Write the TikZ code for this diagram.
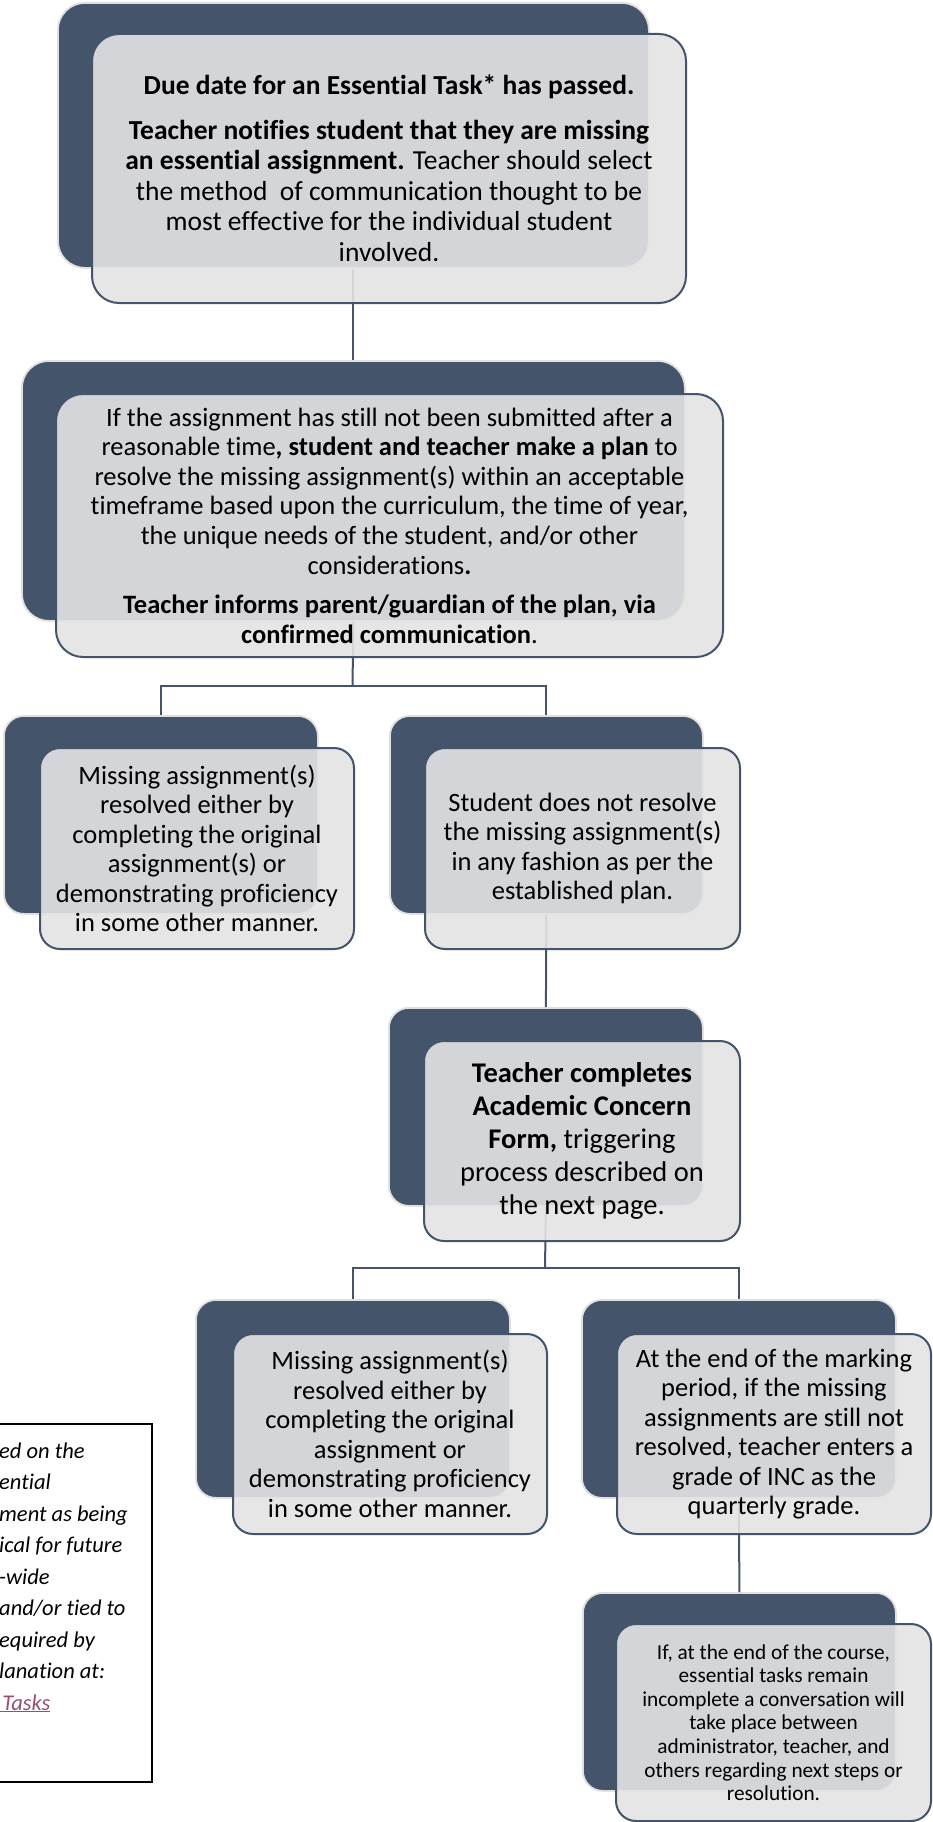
\documentclass[tikz,border=0pt]{standalone}
\usepackage{fontspec}
\setmainfont{Carlito}[Ligatures={NoCommon,NoContextual}]
\usetikzlibrary{calc}
\definecolor{slate}{HTML}{44546A}
\definecolor{lightfill}{RGB}{228,228,229}
\definecolor{linkcol}{HTML}{954F72}
\begin{document}
\begin{tikzpicture}[x=1pt,y=-1pt,
  darkbox/.style={rectangle, rounded corners=#1, fill=slate, draw=black!12, line width=1.8pt, anchor=north west, inner sep=0pt},
  darkbox/.default=20pt,
  lightbox/.style={rectangle, rounded corners=#1, fill=lightfill, fill opacity=0.9, text opacity=1, draw=slate, draw opacity=1, line width=2pt, anchor=north west, inner sep=0pt, align=center, text=black},
  lightbox/.default=20pt,
  conn/.style={draw=slate, line width=2pt},
  bigtext/.style={font=\fontsize{27.5}{30.5}\selectfont},
  midtext/.style={font=\fontsize{26.5}{29.6}\selectfont},
  smalltext/.style={font=\fontsize{26.5}{29.5}\selectfont},
  formtext/.style={font=\fontsize{28.5}{33}\selectfont},
  tinytext/.style={font=\fontsize{21.3}{23.6}\selectfont},
  fnline/.style={font=\itshape\fontsize{22.5}{26}\selectfont, anchor=base west, inner sep=0pt}
]
\useasboundingbox (0,0) rectangle (932,1822);
\fill[white] (0,0) rectangle (932,1822);

% ---------- footnote box (partly off the page)
\draw[black, line width=2pt] (-20,1424) rectangle (152,1782);
\foreach \t [count=\i] in {ed on the, ential, ment as being, ical for future, -wide, and/or tied to, equired by, lanation at:}
  \node[fnline] (fn\i) at (-1,{1458+31.5*(\i-1)}) {\t};
\node[fnline, text=linkcol] (fn9) at (-3,1710) {\underline{\ Tasks}};

% ---------- dark back boxes
\node[darkbox=27pt, minimum width=591, minimum height=265] (d1) at (57,2) {};
\node[darkbox=27pt, minimum width=663, minimum height=260] (d2) at (21,360) {};
\node[darkbox, minimum width=314, minimum height=198] (d3) at (3,715) {};
\node[darkbox, minimum width=313, minimum height=198] (d4) at (389,715) {};
\node[darkbox, minimum width=314, minimum height=198] (d5) at (388,1007) {};
\node[darkbox, minimum width=314, minimum height=198] (d6) at (195,1299) {};
\node[darkbox, minimum width=314, minimum height=198] (d7) at (581,1299) {};
\node[darkbox, minimum width=313, minimum height=198] (d8) at (582,1592) {};

% ---------- connectors
\coordinate (f1) at (352.5,685.5);
\coordinate (f2) at (545,1268);
\draw[conn] (d1.south) -- (d2.north);
\draw[conn] (d2.south) -- (f1);
\draw[conn] (d3.north) |- (f1) -| (d4.north);
\draw[conn] (d4.south) -- (d5.north);
\draw[conn] (d5.south) -- (f2);
\draw[conn] (d6.north) |- (f2) -| (d7.north);
\draw[conn] (d7.south) -- (d8.north);

% ---------- light front boxes with text
\node[lightbox=27pt, bigtext, minimum width=594, minimum height=269] (l1) at (91,33)
 {\textbf{Due date for an Essential Task* has passed.}\\[14pt]
  \textbf{Teacher notifies student that they are missing}\\
  \textbf{an essential assignment.} Teacher should select\\
  the method\ \ of communication thought to be\\
  most effective for the individual student\\
  involved.};

\node[lightbox=27pt, midtext, minimum width=667, minimum height=263] (l2) at (55,393)
 {If the assignment has still not been submitted after a\\
  reasonable time\textbf{, student and teacher make a plan} to\\
  resolve the missing assignment(s) within an acceptable\\
  timeframe based upon the curriculum, the time of year,\\
  the unique needs of the student, and/or other\\
  considerations\textbf{.}\\[10pt]
  \textbf{Teacher informs parent/guardian of the plan, via}\\
  \textbf{confirmed communication}.};

\node[lightbox, smalltext, minimum width=314, minimum height=201] (l3) at (39,747)
 {Missing assignment(s)\\
  resolved either by\\
  completing the original\\
  assignment(s) or\\
  demonstrating proficiency\\
  in some other manner.};

\node[lightbox, smalltext, minimum width=315, minimum height=201] (l4) at (424,747)
 {Student does not resolve\\
  the missing assignment(s)\\
  in any fashion as per the\\
  established plan.};

\node[lightbox, formtext, minimum width=316, minimum height=200] (l5) at (423,1040)
 {\textbf{Teacher completes}\\
  \textbf{Academic Concern}\\
  \textbf{Form,} triggering\\
  process described on\\
  the next page.};

\node[lightbox, smalltext, minimum width=314, minimum height=200] (l6) at (232,1333)
 {Missing assignment(s)\\
  resolved either by\\
  completing the original\\
  assignment or\\
  demonstrating proficiency\\
  in some other manner.};

\node[lightbox, smalltext, minimum width=314, minimum height=200] (l7) at (616,1333)
 {At the end of the marking\\
  period, if the missing\\
  assignments are still not\\
  resolved, teacher enters a\\
  grade of INC as the\\
  quarterly grade.};

\node[lightbox, tinytext, minimum width=315, minimum height=197] (l8) at (615,1623)
 {If, at the end of the course,\\
  essential tasks remain\\
  incomplete a conversation will\\
  take place between\\
  administrator, teacher, and\\
  others regarding next steps or\\
  resolution.};
\end{tikzpicture}
\end{document}
